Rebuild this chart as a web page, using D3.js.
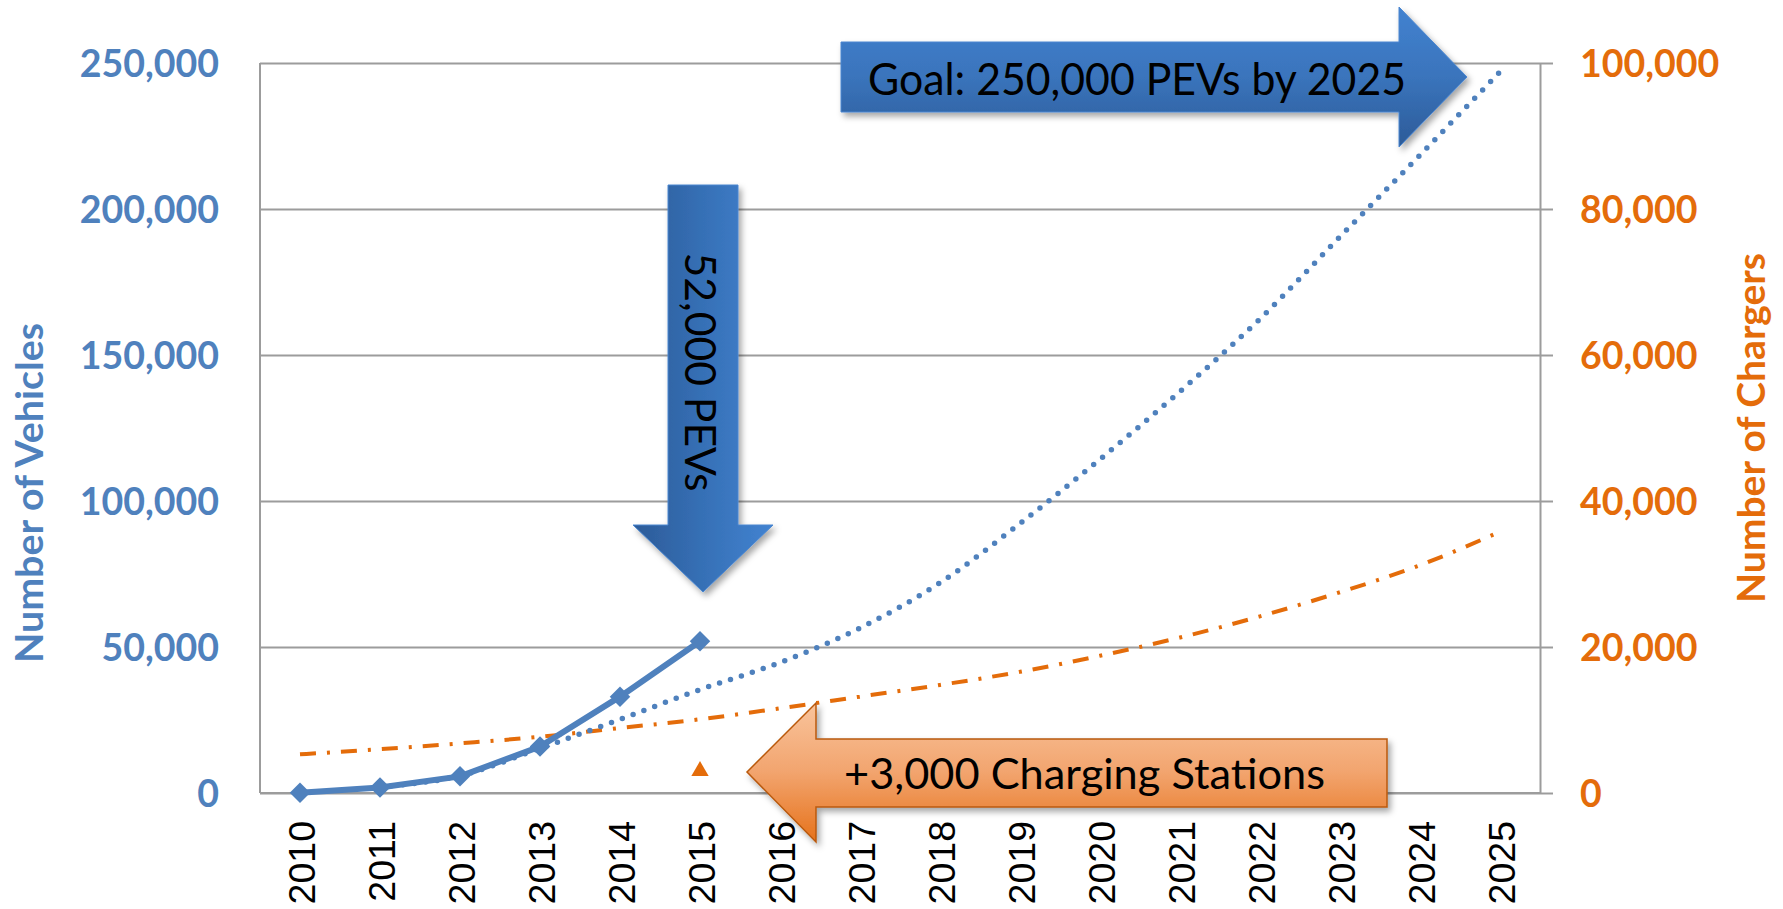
<!DOCTYPE html>
<html>
<head>
<meta charset="utf-8">
<script src="https://cdn.jsdelivr.net/npm/d3@7"></script>
<style>
  body { margin: 0; background: #fff; }
  svg { display: block; }
</style>
</head>
<body>
<svg id="chart" width="1783" height="909"></svg>
<script>
// values
const years = ['2010', '2011', '2012', '2013', '2014', '2015', '2016', '2017',
  '2018', '2019', '2020', '2021', '2022', '2023', '2024', '2025']
const vehicles = [100, 1900, 5700, 15900, 33000, 52000]          // 2010 - 2015
const vehicleTrend = [null, 2100, 5900, 15300, 25200, 35400, 44700, 56500,
  72000, 92300, 114300, 137500, 162400, 190500, 218500, 247000]
const chargerTrend = [5300, 6000, 6800, 7700, 8900, 10100, 11600, 13200,
  14800, 16600, 18800, 21300, 24200, 27500, 31200, 35800]
const chargerYear = '2015'
const chargerValue = 3000
const vehicleTicks = [0, 50000, 100000, 150000, 200000, 250000]
const chargerTicks = [0, 20000, 40000, 60000, 80000, 100000]

const blue = '#4F81BD'
const orange = '#E46C0A'
const grid = '#9C9C9C'

const svg = d3.select('#chart')
const margin = {top: 63, right: 243, bottom: 116, left: 260}
const width = 1783 - margin.left - margin.right
const height = 909 - margin.top - margin.bottom
const g = svg.append('g').attr('transform', 'translate(' + margin.left + ',' + margin.top + ')')

const x = d3.scalePoint().domain(years).range([0, width]).padding(0.5)
const yL = d3.scaleLinear().domain([0, 250000]).range([height, 0])
const yR = d3.scaleLinear().domain([0, 100000]).range([height, 0])

// gradients + shadow
const defs = svg.append('defs')
function grad (id, x2, y2, stops) {
  const lg = defs.append('linearGradient').attr('id', id)
    .attr('x1', 0).attr('y1', 0).attr('x2', x2).attr('y2', y2)
  stops.forEach(s => lg.append('stop').attr('offset', s[0]).attr('stop-color', s[1]))
}
grad('gBlueV', 0, 1, [[0, '#4282D0'], [0.5, '#3A74BC'], [1, '#2C5B98']])
grad('gBlueH', 1, 0, [[0, '#2C5B98'], [0.5, '#3670B6'], [1, '#4283D1']])
grad('gOrange', 0, 1, [[0, '#F9C49C'], [0.5, '#F2A46E'], [1, '#E6721A']])
defs.append('filter').attr('id', 'shadow')
  .attr('x', '-10%').attr('y', '-10%').attr('width', '130%').attr('height', '130%')
  .append('feDropShadow')
  .attr('dx', 3).attr('dy', 4).attr('stdDeviation', 3)
  .attr('flood-color', '#000').attr('flood-opacity', 0.35)

// left axis with gridlines
const leftAxis = g.append('g')
  .call(d3.axisLeft(yL).tickValues(vehicleTicks).tickFormat(d3.format(','))
    .tickSize(-width).tickPadding(41))
leftAxis.select('.domain').remove()
leftAxis.selectAll('line').attr('stroke', grid).attr('stroke-width', 2)
leftAxis.selectAll('text')
  .attr('fill', blue).attr('font-family', 'Lato').attr('font-weight', 'bold')
  .attr('font-size', 37.5).attr('dy', '0.36em')

g.append('line').attr('x1', 0).attr('x2', 0).attr('y1', 0).attr('y2', height)
  .attr('stroke', grid).attr('stroke-width', 2)

// right axis
const rightAxis = g.append('g').attr('transform', 'translate(' + width + ',0)')
  .call(d3.axisRight(yR).tickValues(chargerTicks).tickFormat(d3.format(','))
    .tickSize(13).tickSizeOuter(0).tickPadding(27))
rightAxis.select('.domain').attr('stroke', grid).attr('stroke-width', 2)
rightAxis.selectAll('line').attr('stroke', grid).attr('stroke-width', 2)
rightAxis.selectAll('text')
  .attr('fill', orange).attr('font-family', 'Lato').attr('font-weight', 'bold')
  .attr('font-size', 37.5).attr('dy', '0.36em')

// bottom axis
const bottomAxis = g.append('g').attr('transform', 'translate(0,' + height + ')')
  .call(d3.axisBottom(x).tickSize(0).tickSizeOuter(0))
bottomAxis.select('.domain').attr('stroke', grid).attr('stroke-width', 2)
  .attr('d', 'M0,0H' + width)
bottomAxis.selectAll('text')
  .attr('transform', 'rotate(-90)')
  .attr('text-anchor', 'end')
  .attr('x', -28).attr('y', 14).attr('dy', 0)
  .attr('fill', '#000').attr('font-family', 'Liberation Sans, Arial')
  .attr('font-size', 37.5)

// axis titles
svg.append('text')
  .attr('transform', 'translate(43,493) rotate(-90)')
  .attr('text-anchor', 'middle')
  .attr('font-family', 'Lato').attr('font-weight', 'bold').attr('font-size', 38)
  .attr('fill', blue)
  .attr('textLength', 340).attr('lengthAdjust', 'spacingAndGlyphs')
  .text('Number of Vehicles')
svg.append('text')
  .attr('transform', 'translate(1765,428) rotate(-90)')
  .attr('text-anchor', 'middle')
  .attr('font-family', 'Lato').attr('font-weight', 'bold').attr('font-size', 38)
  .attr('fill', orange)
  .attr('textLength', 350).attr('lengthAdjust', 'spacingAndGlyphs')
  .text('Number of Chargers')

// trend lines
const chargerLine = d3.line()
  .x((d, i) => x(years[i])).y(d => yR(d))
  .curve(d3.curveMonotoneX)
g.append('path').datum(chargerTrend)
  .attr('d', chargerLine)
  .attr('fill', 'none').attr('stroke', orange).attr('stroke-width', 4)
  .attr('stroke-dasharray', '16 11 3 11')

const vehicleTrendLine = d3.line()
  .defined(d => d !== null)
  .x((d, i) => x(years[i])).y(d => yL(d))
  .curve(d3.curveMonotoneX)
g.append('path').datum(vehicleTrend)
  .attr('d', vehicleTrendLine)
  .attr('fill', 'none').attr('stroke', blue).attr('stroke-width', 5.5)
  .attr('stroke-linecap', 'round').attr('stroke-dasharray', '0 11.5')

// vehicles actual
const vehicleLine = d3.line().x((d, i) => x(years[i])).y(d => yL(d))
g.append('path').datum(vehicles)
  .attr('d', vehicleLine)
  .attr('fill', 'none').attr('stroke', blue).attr('stroke-width', 6)
g.selectAll('.marker').data(vehicles).enter().append('path')
  .attr('class', 'marker')
  .attr('d', d3.symbol(d3.symbolSquare, 210))
  .attr('transform', (d, i) => 'translate(' + x(years[i]) + ',' + yL(d) + ') rotate(45)')
  .attr('fill', blue)

// chargers point
g.append('path')
  .attr('d', d3.symbol(d3.symbolTriangle, 130))
  .attr('transform', 'translate(' + x(chargerYear) + ',' + yR(chargerValue) + ')')
  .attr('fill', orange)

// annotation arrows
const poly = pts => 'M' + pts.map(p => p.join(',')).join('L') + 'Z'

// goal arrow (right)
svg.append('path')
  .attr('d', poly([[841, 42], [1399, 42], [1399, 7], [1467, 77], [1399, 147], [1399, 112], [841, 112]]))
  .attr('fill', 'url(#gBlueV)').attr('stroke', '#4A86D0').attr('stroke-width', 1)
  .attr('filter', 'url(#shadow)')
svg.append('text')
  .attr('x', 868).attr('y', 95)
  .attr('font-family', 'Lato').attr('font-size', 45).attr('fill', '#000')
  .attr('textLength', 538).attr('lengthAdjust', 'spacingAndGlyphs')
  .text('Goal: 250,000 PEVs by 2025')

// 52,000 arrow (down)
svg.append('path')
  .attr('d', poly([[668, 185], [738, 185], [738, 525], [773, 525], [703, 592], [633, 525], [668, 525]]))
  .attr('fill', 'url(#gBlueH)').attr('stroke', '#4A86D0').attr('stroke-width', 1)
  .attr('filter', 'url(#shadow)')
svg.append('text')
  .attr('transform', 'translate(685,372) rotate(90)')
  .attr('text-anchor', 'middle')
  .attr('font-family', 'Lato').attr('font-size', 43).attr('fill', '#000')
  .attr('textLength', 239).attr('lengthAdjust', 'spacingAndGlyphs')
  .text('52,000 PEVs')

// chargers arrow (left)
svg.append('path')
  .attr('d', poly([[1387, 739], [816, 739], [816, 703], [747, 772], [816, 842], [816, 807], [1387, 807]]))
  .attr('fill', 'url(#gOrange)').attr('stroke', '#B9590C').attr('stroke-width', 1.5)
  .attr('filter', 'url(#shadow)')
svg.append('text')
  .attr('x', 844).attr('y', 789)
  .attr('font-family', 'Lato').attr('font-size', 43).attr('fill', '#000')
  .attr('textLength', 481).attr('lengthAdjust', 'spacingAndGlyphs')
  .text('+3,000 Charging Stations')
</script>
</body>
</html>
